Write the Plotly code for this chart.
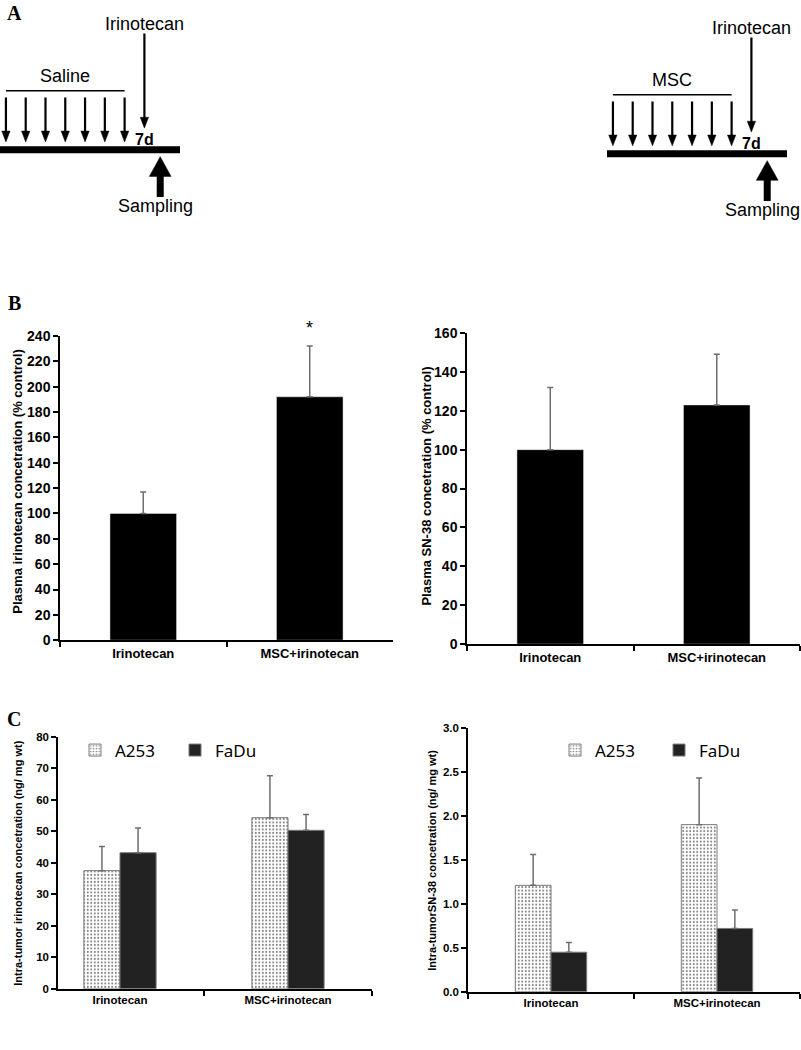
import plotly.graph_objects as go

W, H = 801, 1050

# ---------------- data ----------------
categories = ["Irinotecan", "MSC+irinotecan"]
plasma_irinotecan = [100, 192]
plasma_irinotecan_err = [17, 40]
plasma_sn38 = [100, 123]
plasma_sn38_err = [32, 26]
tumor_irinotecan_a253 = [37.5, 54.3]
tumor_irinotecan_a253_err = [7.7, 13.3]
tumor_irinotecan_fadu = [43.2, 50.3]
tumor_irinotecan_fadu_err = [7.8, 5.0]
tumor_sn38_a253 = [1.21, 1.90]
tumor_sn38_a253_err = [0.35, 0.53]
tumor_sn38_fadu = [0.45, 0.72]
tumor_sn38_fadu_err = [0.11, 0.21]

dose_days = [0, 1, 2, 3, 4, 5, 6]
irinotecan_day = 7
sampling_day = 7.8
timeline_days = [-0.3, 8.8]
pretreatments = ["Saline", "MSC"]

# ---------------- helpers ----------------
def xd(a, b):
    return [a / W, b / W]

def yd(top, bottom):
    return [1 - bottom / H, 1 - top / H]

AR = "Liberation Sans"
ERRC = "#6e6e6e"

fig = go.Figure()

# ---------------- panel A schematics ----------------
def schematic(xa, ya, label):
    xr, yr = "x" + xa, "y" + ya
    hw = 0.21
    fig.add_trace(go.Scatter(x=[dose_days[0], dose_days[-1]], y=[90, 90], mode="lines",
                             line=dict(color="black", width=1.5), xaxis=xr, yaxis=yr,
                             showlegend=False, hoverinfo="skip"))
    sx, sy, hx, hy = [], [], [], []
    for d in dose_days + [irinotecan_day]:
        top = 32 if d == irinotecan_day else 97
        tip = 128 if d == irinotecan_day else 142
        sx += [d, d, None]
        sy += [top, tip - 8, None]
        hx += [d - hw, d + hw, d, d - hw, None]
        hy += [tip - 11, tip - 11, tip, tip - 11, None]
    fig.add_trace(go.Scatter(x=sx, y=sy, mode="lines", line=dict(color="black", width=2.2),
                             xaxis=xr, yaxis=yr, showlegend=False, hoverinfo="skip"))
    fig.add_trace(go.Scatter(x=hx, y=hy, mode="lines", fill="toself", fillcolor="black",
                             line=dict(color="black", width=0.5), xaxis=xr, yaxis=yr,
                             showlegend=False, hoverinfo="skip"))
    fig.add_trace(go.Scatter(x=timeline_days, y=[150, 150], mode="lines",
                             line=dict(color="black", width=7), xaxis=xr, yaxis=yr,
                             showlegend=False, hoverinfo="skip"))
    s = sampling_day
    fig.add_trace(go.Scatter(x=[s, s], y=[175, 198], mode="lines",
                             line=dict(color="black", width=7), xaxis=xr, yaxis=yr,
                             showlegend=False, hoverinfo="skip"))
    fig.add_trace(go.Scatter(x=[s - 0.55, s + 0.55, s, s - 0.55], y=[177, 177, 157, 177],
                             mode="lines", fill="toself", fillcolor="black",
                             line=dict(color="black", width=0.5), xaxis=xr, yaxis=yr,
                             showlegend=False, hoverinfo="skip"))
    f = dict(family=AR, size=18, color="black")
    fig.add_annotation(x=3, y=75, xref=xr, yref=yr, text=label, showarrow=False, font=f,
                       xanchor="center", yanchor="middle")
    fig.add_annotation(x=irinotecan_day, y=22, xref=xr, yref=yr, text="Irinotecan",
                       showarrow=False, font=f, xanchor="center", yanchor="middle")
    fig.add_annotation(x=irinotecan_day, y=140, xref=xr, yref=yr, text="7d", showarrow=False,
                       font=dict(family=AR, size=16, color="black", weight="bold"),
                       xanchor="center", yanchor="middle")
    fig.add_annotation(x=s - 0.22, y=207, xref=xr, yref=yr, text="Sampling", showarrow=False,
                       font=f, xanchor="center", yanchor="middle")

schematic("5", "5", pretreatments[0])
schematic("6", "6", pretreatments[1])

# ---------------- bars ----------------
def err(arr, w=1.5):
    return dict(type="data", array=arr, arrayminus=[0] * len(arr), symmetric=False,
                color=ERRC, thickness=w, width=3)

fig.add_trace(go.Bar(x=categories, y=plasma_irinotecan, marker=dict(color="black"), width=0.4,
                     error_y=err(plasma_irinotecan_err), xaxis="x", yaxis="y", showlegend=False))
fig.add_trace(go.Bar(x=categories, y=plasma_sn38, marker=dict(color="black"), width=0.4,
                     error_y=err(plasma_sn38_err), xaxis="x2", yaxis="y2", showlegend=False))

dot = dict(shape=".", fgcolor="black", bgcolor="white", size=3.5, solidity=0.25)
a253_marker = dict(color="white", pattern=dot, line=dict(color="#7a7a7a", width=1))
fadu_marker = dict(color="#222222", line=dict(color="#7a7a7a", width=1))

fig.add_trace(go.Bar(x=categories, y=tumor_irinotecan_a253, name="A253", marker=a253_marker,
                     error_y=err(tumor_irinotecan_a253_err), xaxis="x3", yaxis="y3",
                     legend="legend"))
fig.add_trace(go.Bar(x=categories, y=tumor_irinotecan_fadu, name="FaDu", marker=fadu_marker,
                     error_y=err(tumor_irinotecan_fadu_err), xaxis="x3", yaxis="y3",
                     legend="legend"))
fig.add_trace(go.Bar(x=categories, y=tumor_sn38_a253, name="A253", marker=a253_marker,
                     error_y=err(tumor_sn38_a253_err), xaxis="x4", yaxis="y4",
                     legend="legend2"))
fig.add_trace(go.Bar(x=categories, y=tumor_sn38_fadu, name="FaDu", marker=fadu_marker,
                     error_y=err(tumor_sn38_fadu_err), xaxis="x4", yaxis="y4",
                     legend="legend2"))

# ---------------- axes ----------------
def xax(dom, anchor, size, fam=AR, rng=None):
    d = dict(domain=dom, anchor=anchor, type="category", tickson="boundaries",
             ticks="outside", ticklen=5, tickwidth=1.5, tickcolor="black",
             showline=True, linecolor="black", linewidth=1.5, showgrid=False,
             tickfont=dict(family=fam, size=size, color="black", weight="bold"))
    if rng:
        d["range"] = rng
    return d

def yax(dom, anchor, rng, dtick, size, fmt=None):
    d = dict(domain=dom, anchor=anchor, range=rng, dtick=dtick, ticks="outside", ticklen=5,
             tickwidth=1.5, tickcolor="black", showline=True, linecolor="black",
             linewidth=1.5, showgrid=False, zeroline=False,
             tickfont=dict(family=AR, size=size, color="black", weight="bold"))
    if fmt:
        d["tickformat"] = fmt
    return d

NARROW = "Liberation Sans Narrow, Liberation Sans"

hidden_x = dict(visible=False, range=[-0.3, 8.8], showgrid=False, zeroline=False)
hidden_y = dict(visible=False, range=[226, 6], showgrid=False, zeroline=False)

fig.update_layout(
    width=W, height=H, margin=dict(l=0, r=0, t=0, b=0),
    paper_bgcolor="white", plot_bgcolor="white",
    barmode="group", bargap=0.57, bargroupgap=0,
    xaxis=xax(xd(60, 393), "y", 13),
    yaxis=yax(yd(333, 642), "x", [0, 240], 20, 14),
    xaxis2=xax(xd(467, 800), "y2", 13),
    yaxis2=yax(yd(330, 646), "x2", [0, 160], 20, 14),
    xaxis3=xax(xd(58, 372), "y3", 11.5, NARROW, [-0.369, 1.5]),
    yaxis3=yax(yd(740, 996), "x3", [0, 80], 10, 11.5),
    xaxis4=xax(xd(468, 800), "y4", 11.5, NARROW),
    yaxis4=yax(yd(731, 999), "x4", [0, 3], 0.5, 11.5, ".1f"),
    xaxis5=dict(domain=xd(0, 180), anchor="y5", **hidden_x),
    yaxis5=dict(domain=yd(0, 220), anchor="x5", **hidden_y),
    xaxis6=dict(domain=xd(607, 787), anchor="y6", **hidden_x),
    yaxis6=dict(domain=yd(4, 224), anchor="x6", **hidden_y),
    legend=dict(orientation="h", x=75 / W, y=1 - 754 / H, xanchor="left", yanchor="middle",
                entrywidth=55, font=dict(family="Noto Sans", size=17, color="black"),
                bgcolor="rgba(0,0,0,0)", traceorder="normal"),
    legend2=dict(orientation="h", x=555 / W, y=1 - 754 / H, xanchor="left", yanchor="middle",
                 entrywidth=59, font=dict(family="Noto Sans", size=17, color="black"),
                 bgcolor="rgba(0,0,0,0)", traceorder="normal"),
    showlegend=True,
)

# asterisk (placed relative to the y-axis domain so it may sit above the range)
fig.add_annotation(x=categories[1],
                   y=(plasma_irinotecan[1] + plasma_irinotecan_err[1] + 14) / 240,
                   xref="x", yref="y domain", text="*", showarrow=False,
                   xanchor="center", yanchor="middle",
                   font=dict(family=AR, size=18, color="black"))

# axis titles
def ytitle(x, y, text, size):
    fig.add_annotation(x=x / W, y=1 - y / H, xref="paper", yref="paper", text=text,
                       textangle=-90, showarrow=False, xanchor="center", yanchor="middle",
                       font=dict(family=AR, size=size, color="black", weight="bold"))

ytitle(18, 481, "Plasma irinotecan concetration (% control)", 13)
ytitle(427, 486, "Plasma SN-38 concetration (% control)", 13)
ytitle(18, 869, "Intra-tumor irinotecan concetration (ng/ mg wt)", 11)
ytitle(432, 866, "Intra-tumorSN-38 concetration (ng/ mg wt)", 11)

# panel letters
for letter, px, py in [("A", 14, 5), ("B", 14, 300), ("C", 14, 722)]:
    fig.add_annotation(x=px / W, y=1 - py / H, xref="paper", yref="paper", text=letter,
                       showarrow=False, xanchor="center", yanchor="middle",
                       font=dict(family="Liberation Serif", size=20, color="black",
                                 weight="bold"))

fig.write_html("out.html", config={"displayModeBar": False},
               post_script="document.body.style.margin='0';")
